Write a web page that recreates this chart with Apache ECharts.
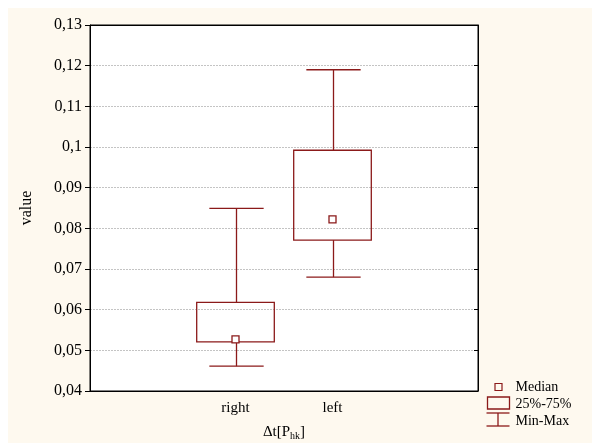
<!DOCTYPE html>
<html>
<head>
<meta charset="utf-8">
<script src="https://cdn.jsdelivr.net/npm/echarts@6/dist/echarts.min.js"></script>
<style>
html,body{margin:0;padding:0;background:#fff;}
#wrap{position:relative;width:592px;height:443px;background:#fff;}
#box{position:absolute;left:8px;top:8px;width:584px;height:435px;background:#fef9ef;}
</style>
</head>
<body>
<div id="wrap"><div id="box"></div></div>
<script>
// categories (blank slots on both sides, as in the original)
var categories = ['', 'right', 'left', ''];
var groups = ['right', 'left'];
// per group values
var mins    = [0.0461, 0.0680];
var q1s     = [0.0521, 0.0771];
var medians = [0.0527, 0.0822];
var q3s     = [0.0618, 0.0992];
var maxs    = [0.0849, 0.1190];
var yTicks  = [0.04, 0.13, 0.01]; // min, max, step

var red = '#8b1a1a';
var font = 'Liberation Serif';

var data = [];
groups.forEach(function (g, i) {
	data.push([categories.indexOf(g), mins[i], q1s[i], medians[i], q3s[i], maxs[i]]);
});

function fmt(v) {
	return String(+v.toFixed(2)).replace('.', ',');
}

function line(x1, y1, x2, y2) {
	return {type: 'line', shape: {x1: x1, y1: y1, x2: x2, y2: y2},
		style: {stroke: red, lineWidth: 1.3}};
}

//胡须
function renderWhisker(params, api) {
	var x = api.value(0);
	var pMin = api.coord([x, api.value(1)]);
	var pQ1 = api.coord([x, api.value(2)]);
	var pQ3 = api.coord([x, api.value(4)]);
	var pMax = api.coord([x, api.value(5)]);
	var cap = api.size([1, 0])[0] * 0.28;
	var cx = Math.round(pMin[0]) + 0.5;
	return {type: 'group', children: [
		line(cx, pMax[1], cx, pQ3[1]),
		line(cx - cap, pMax[1], cx + cap, pMax[1]),
		line(cx, pMin[1], cx, pQ1[1]),
		line(cx - cap, pMin[1], cx + cap, pMin[1])
	]};
}
//箱体
function renderBox(params, api) {
	var x = api.value(0);
	var pQ1 = api.coord([x, api.value(2)]);
	var pQ3 = api.coord([x, api.value(4)]);
	var hw = api.size([1, 0])[0] * 0.4;
	return {type: 'rect',
		shape: {x: pQ1[0] - hw, y: pQ3[1], width: hw * 2, height: pQ1[1] - pQ3[1]},
		style: {fill: 'none', stroke: red, lineWidth: 1.3}};
}
//中位数
function renderMedian(params, api) {
	var p = api.coord([api.value(0), api.value(3)]);
	return {type: 'rect',
		shape: {x: p[0] - 3.5, y: p[1] - 3.5, width: 7, height: 7},
		style: {fill: '#fff', stroke: red, lineWidth: 1.3}};
}

var option = {
	animation: false,
	grid: {left: 82, top: 17, right: 114, bottom: 52, show: true, outerBoundsMode: 'none',
		backgroundColor: '#fff', borderColor: '#000', borderWidth: 1},
	xAxis: [{
		type: 'category', data: categories, position: 'bottom',
		name: 'Δt[P{sub|hk}]', nameLocation: 'middle', nameGap: 32,
		nameTextStyle: {fontFamily: font, fontSize: 15, color: '#000',
			rich: {sub: {fontFamily: font, fontSize: 10, verticalAlign: 'bottom', padding: [8, 0, 0, 0]}}},
		axisLine: {lineStyle: {color: '#000'}},
		axisTick: {inside: true, alignWithLabel: true, length: 4, lineStyle: {color: '#000'}},
		axisLabel: {fontFamily: font, fontSize: 15, color: '#000', margin: 10}
	}, {
		type: 'category', data: categories, position: 'top',
		axisLine: {lineStyle: {color: '#000'}},
		axisTick: {inside: true, alignWithLabel: true, length: 4, lineStyle: {color: '#000'}},
		axisLabel: {show: false}
	}],
	yAxis: [{
		type: 'value', min: yTicks[0], max: yTicks[1], interval: yTicks[2],
		name: 'value', nameLocation: 'middle', nameGap: 55,
		nameTextStyle: {fontFamily: font, fontSize: 16, color: '#000'},
		axisLine: {show: true, lineStyle: {color: '#000'}},
		axisTick: {show: true, length: 5, lineStyle: {color: '#000'}},
		axisLabel: {fontFamily: font, fontSize: 16, color: '#000', margin: 8, formatter: fmt},
		splitLine: {lineStyle: {color: '#c4c4c4', type: [2, 1]}}
	}, {
		type: 'value', min: yTicks[0], max: yTicks[1], interval: yTicks[2], position: 'right',
		axisLine: {show: true, lineStyle: {color: '#000'}},
		axisTick: {show: true, inside: true, length: 4, lineStyle: {color: '#000'}},
		axisLabel: {show: false},
		splitLine: {show: false}
	}],
	series: [
		{name: 'Min-Max', type: 'custom', renderItem: renderWhisker, data: data, encode: {x: 0, y: [1, 5]}, z: 2},
		{name: '25%-75%', type: 'custom', renderItem: renderBox, data: data, encode: {x: 0, y: [2, 4]}, z: 3},
		{name: 'Median', type: 'custom', renderItem: renderMedian, data: data, encode: {x: 0, y: 3}, z: 4}
	],
	graphic: [{
		type: 'group', left: 476, top: 372,
		children: [
			{type: 'rect', shape: {x: 8.5, y: 0.5, width: 7, height: 7}, style: {fill: 'none', stroke: red, lineWidth: 1.2}},
			{type: 'rect', shape: {x: 1, y: 14, width: 22, height: 12}, style: {fill: 'none', stroke: red, lineWidth: 1.3}},
			{type: 'line', shape: {x1: 0, y1: 30, x2: 23, y2: 30}, style: {stroke: red, lineWidth: 1.3}},
			{type: 'line', shape: {x1: 11.5, y1: 30, x2: 11.5, y2: 43}, style: {stroke: red, lineWidth: 1.3}},
			{type: 'line', shape: {x1: 0, y1: 43, x2: 23, y2: 43}, style: {stroke: red, lineWidth: 1.3}},
			{type: 'text', x: 29, y: 4, style: {text: 'Median', font: '14px "Liberation Serif"', fill: '#000', verticalAlign: 'middle'}},
			{type: 'text', x: 29, y: 21, style: {text: '25%-75%', font: '14px "Liberation Serif"', fill: '#000', verticalAlign: 'middle'}},
			{type: 'text', x: 29, y: 38, style: {text: 'Min-Max', font: '14px "Liberation Serif"', fill: '#000', verticalAlign: 'middle'}}
		]
	}]
};

var chart = echarts.init(document.getElementById('box'));
chart.setOption(option);
</script>
</body>
</html>
